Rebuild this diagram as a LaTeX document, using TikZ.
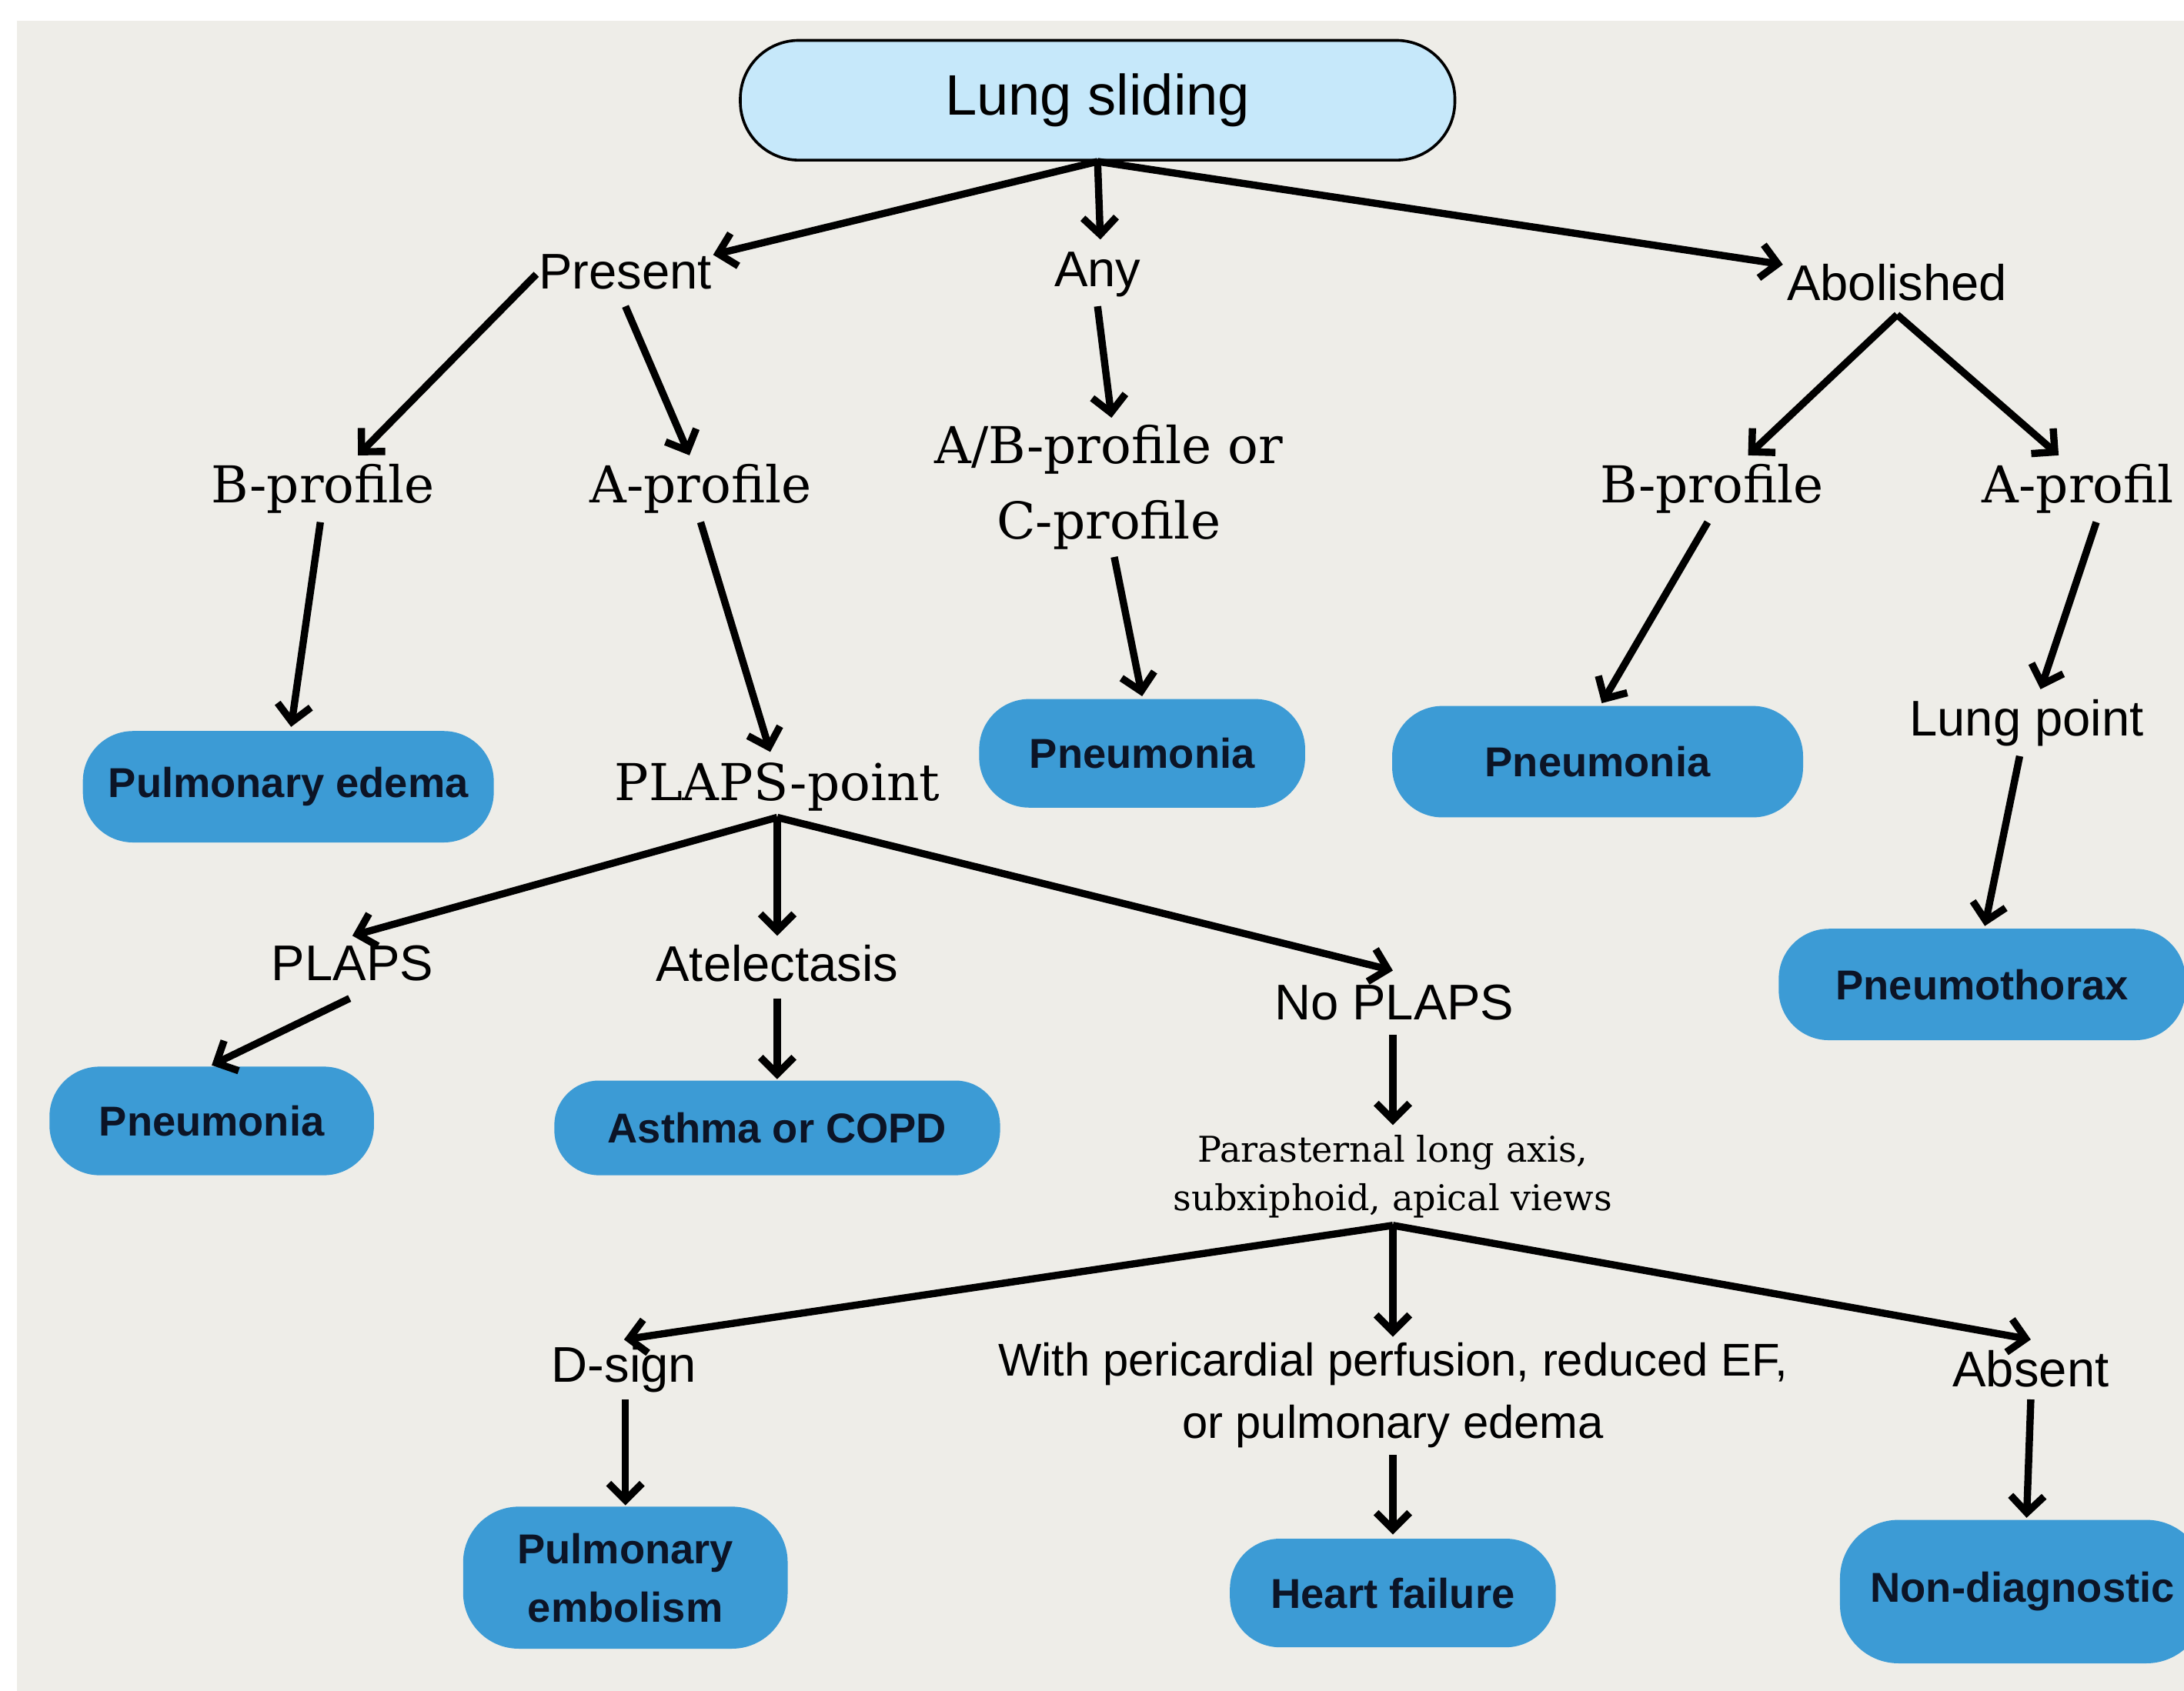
\documentclass[tikz,border=0pt]{standalone}
\usepackage{fontspec}
\newfontfamily\sansf{Liberation Sans}
\newfontfamily\seriff{DejaVu Serif}
\usetikzlibrary{arrows.meta}
\definecolor{bgc}{RGB}{238,237,232}
\definecolor{lsblue}{RGB}{198,232,250}
\definecolor{boxblue}{RGB}{60,155,213}
\definecolor{boxtxt}{RGB}{12,20,38}
\tikzset{
  arr/.style={line width=5.2pt, line join=miter, -{Straight Barb[length=12pt,width=24pt]}},
  lbl/.style={font=\sansf\fontsize{36pt}{43pt}\selectfont, inner sep=0pt, align=center},
  slbl/.style={font=\seriff\fontsize{36.5pt}{54pt}\selectfont, inner sep=0pt, align=center},
  para/.style={font=\seriff\fontsize{25.5pt}{35pt}\selectfont, inner sep=0pt, align=center},
  wlbl/.style={font=\sansf\fontsize{33pt}{45pt}\selectfont, inner sep=0pt, align=center},
  res/.style={fill=boxblue, rounded corners=36pt, text=boxtxt, font=\sansf\bfseries\fontsize{30pt}{42pt}\selectfont, align=center, inner sep=0pt},
  lsbox/.style={draw=black, line width=2pt, fill=lsblue, rounded corners=42pt, font=\sansf\fontsize{41pt}{48pt}\selectfont, inner sep=0pt, minimum width=513pt, minimum height=86pt},
}
\begin{document}
\begin{tikzpicture}[x=1pt,y=-1pt]
\useasboundingbox (0,0) rectangle (1568,1214);
\fill[white] (0,0) rectangle (1568,1214);
\clip (0,0) rectangle (1568,1214);
\fill[bgc] (12,15) rectangle (1570,1216);

% nodes
\node[lsbox] (ls) at (788,72) {Lung sliding};
\node[lbl] (present) at (449,195) {Present};
\node[lbl] (any) at (788,197) {Any};
\node[lbl] (abol) at (1362,203) {Abolished};
\node[slbl] (bpl) at (232,351) {B-profile};
\node[slbl] (apl) at (503,351) {A-profile};
\node[slbl] (abc) at (796,350) {A/B-profile or\\C-profile};
\node[slbl] (bpr) at (1229,351) {B-profile};
\node[slbl, anchor=west] (apr) at (1423,351) {A-profil};
\node[res, minimum width=295pt, minimum height=80pt] (pe) at (207,565) {Pulmonary edema};
\node[slbl] (plapsp) at (558,565) {PLAPS-point};
\node[res, minimum width=234pt, minimum height=78pt] (pnm) at (820,541) {Pneumonia};
\node[res, minimum width=295pt, minimum height=80pt] (pnr) at (1147,547) {Pneumonia};
\node[lbl] (lp) at (1455,519) {Lung point};
\node[res, minimum width=292pt, minimum height=80pt] (ptx) at (1423,707) {Pneumothorax};
\node[lbl] (plaps) at (253,692) {PLAPS};
\node[lbl] (atel) at (558,692) {Atelectasis};
\node[lbl] (noplaps) at (1001,720) {No PLAPS};
\node[res, minimum width=233pt, minimum height=78pt] (pnl) at (152,805) {Pneumonia};
\node[res, rounded corners=32pt, minimum width=320pt, minimum height=68pt] (asth) at (558,810) {Asthma or COPD};
\node[para] (para) at (1000,845) {Parasternal long axis,\\subxiphoid, apical views};
\node[lbl] (dsign) at (448,983) {D-sign};
\node[wlbl] (with) at (1000,1002) {With pericardial perfusion, reduced EF,\\or pulmonary edema};
\node[lbl] (absent) at (1458,983) {Absent};
\node[res, rounded corners=40pt, minimum width=233pt, minimum height=102pt] (pemb) at (449,1133) {Pulmonary\\embolism};
\node[res, minimum width=234pt, minimum height=78pt] (hf) at (1000,1144) {Heart failure};
\node[res, rounded corners=42pt, minimum width=262pt, minimum height=103pt] (nd) at (1452,1143) {Non-diagnostic};

% connectors
\draw[arr] (ls.south) -- ([shift={(63,-12)}]present.center);
\draw[arr] (ls.south) -- ([shift={(2,-25)}]any.center);
\draw[arr] (ls.south) -- ([shift={(-82,-13)}]abol.center);
\draw[arr] ([shift={(-64,2)}]present.center) -- ([shift={(25,-24)}]bpl.center);
\draw[arr] ([shift={(0,25)}]present.center) -- ([shift={(-8,-24)}]apl.center);
\draw[arr] ([shift={(0,23)}]any.center) -- ([shift={(2,-50)}]abc.center);
\draw[arr] ([shift={(0,23)}]abol.center) -- ([shift={(26,-24)}]bpr.center);
\draw[arr] ([shift={(0,23)}]abol.center) -- ([shift={(55,-24)}]apr.west);
\draw[arr] ([shift={(-2,24)}]bpl.center) -- ([shift={(2,-43)}]pe.center);
\draw[arr] ([shift={(0,24)}]apl.center) -- ([shift={(-5,-25)}]plapsp.center);
\draw[arr] ([shift={(4,50)}]abc.center) -- ([shift={(0,-41)}]pnm.center);
\draw[arr] ([shift={(-3,24)}]bpr.center) -- ([shift={(3,-42)}]pnr.center);
\draw[arr] ([shift={(82,24)}]apr.west) -- ([shift={(10,-24)}]lp.center);
\draw[arr] ([shift={(-5,24)}]lp.center) -- ([shift={(2,-42)}]ptx.center);
\draw[arr] ([shift={(0,22)}]plapsp.center) -- ([shift={(0,-20)}]plaps.center);
\draw[arr] ([shift={(0,22)}]plapsp.center) -- ([shift={(0,-20)}]atel.center);
\draw[arr] ([shift={(0,22)}]plapsp.center) -- ([shift={(-1,-23)}]noplaps.center);
\draw[arr] ([shift={(-2,25)}]plaps.center) -- ([shift={(0,-40)}]pnl.center);
\draw[arr] ([shift={(0,25)}]atel.center) -- ([shift={(0,-35)}]asth.center);
\draw[arr] ([shift={(-1,23)}]noplaps.center) -- ([shift={(0,-37)}]para.center);
\draw[arr] ([shift={(0,35)}]para.center) -- ([shift={(0,-21)}]dsign.center);
\draw[arr] ([shift={(0,35)}]para.center) -- ([shift={(0,-42)}]with.center);
\draw[arr] ([shift={(0,35)}]para.center) -- ([shift={(0,-21)}]absent.center);
\draw[arr] ([shift={(1,22)}]dsign.center) -- ([shift={(0,-52)}]pemb.center);
\draw[arr] ([shift={(0,43)}]with.center) -- ([shift={(0,-42)}]hf.center);
\draw[arr] ([shift={(0,22)}]absent.center) -- ([shift={(3,-53)}]nd.center);
\end{tikzpicture}
\end{document}
